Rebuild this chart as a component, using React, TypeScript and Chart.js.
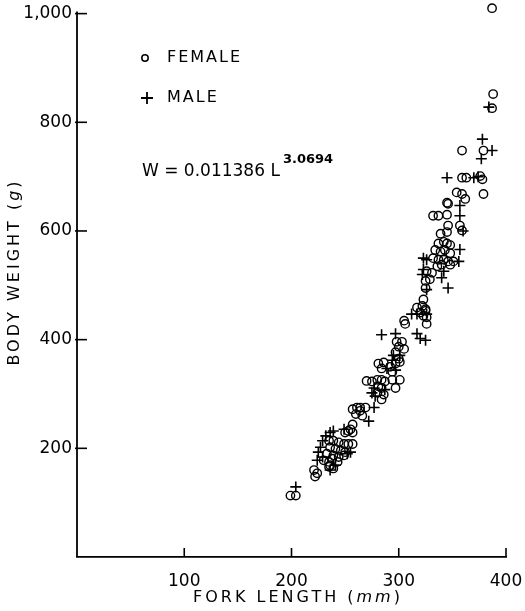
import React, { useEffect, useRef } from "react";
import { Chart, registerables } from "chart.js";

Chart.register(...registerables);

// Fork length (mm) and body weight (g)
const femaleLength = [
  387, 388, 387, 359, 379, 359, 363, 376, 378, 354, 359, 379, 362, 345,
  346, 332, 337, 345, 346, 357, 359, 339, 345, 337, 342, 345, 348, 334, 339, 343, 348,
  332, 337, 342, 346, 351, 336, 340, 348, 326, 331, 325, 329, 325, 323, 322, 325, 320, 323, 305,
  317, 325, 326, 326, 306, 298, 303, 300, 305, 297, 300, 281, 286, 284, 292, 297, 301, 294,
  270, 275, 280, 284, 287, 294, 301, 281, 284, 297, 280, 286, 284, 264, 269,
  257, 261, 264, 260, 266, 257, 255, 250, 253, 257, 235, 239, 244, 249, 253, 257,
  236, 241, 246, 250, 233, 239, 244, 249, 230, 235, 238, 243, 236, 239, 235,
  221, 224, 222, 199, 204,
];
const femaleWeight = [
  1010, 852, 826, 748, 748, 698, 698, 701, 695, 671, 668, 668, 659, 652,
  650, 628, 628, 630, 610, 610, 601, 595, 598, 577, 580, 577, 574, 565, 562, 565, 559,
  550, 547, 547, 544, 544, 535, 538, 538, 526, 523, 508, 511, 495, 474, 462, 456, 450, 444, 435,
  459, 453, 441, 429, 429, 396, 396, 387, 383, 377, 365, 356, 358, 347, 350, 356, 359, 341,
  324, 323, 326, 326, 323, 326, 326, 314, 311, 311, 302, 299, 290, 275, 275,
  272, 275, 269, 263, 260, 244, 235, 229, 232, 229, 214, 214, 211, 208, 208, 208,
  202, 199, 196, 193, 190, 187, 184, 187, 178, 175, 181, 175, 169, 163, 166,
  160, 154, 148, 113, 113,
];
const maleLength = [
  384, 378, 387, 377, 345, 370, 374, 357, 357, 360, 357, 323, 326, 356, 342, 323, 322, 340,
  346, 326, 317, 326, 312, 317, 320, 325, 284, 297, 295, 301, 294, 289, 297, 277, 287,
  278, 275, 277, 272, 249, 239, 236, 232, 229, 227, 225, 252, 255, 229, 224, 236, 241, 204,
];
const maleWeight = [
  828, 769, 748, 733, 698, 698, 700, 647, 628, 600, 566, 550, 547, 544, 526, 529, 520, 514,
  495, 492, 447, 447, 447, 411, 402, 399, 409, 411, 371, 371, 362, 347, 344, 311, 308,
  296, 302, 275, 250, 235, 232, 229, 223, 214, 202, 193, 190, 193, 184, 178, 160, 169, 129,
];

const xTicks = [100, 200, 300, 400];
const xTickLabels = ["100", "200", "300", "400"];
const yTicks = [200, 400, 600, 800, 1000];
const yTickLabels = ["200", "400", "600", "800", "1,000"];

const FONT = '"DejaVu Sans", sans-serif';

function drawSpaced(ctx: CanvasRenderingContext2D, parts: { t: string; italic?: boolean }[], cx: number, cy: number, size: number, spacing: number) {
  ctx.letterSpacing = spacing + "px";
  const widths = parts.map((p) => {
    ctx.font = `${p.italic ? "italic " : ""}${size}px ${FONT}`;
    return ctx.measureText(p.t).width;
  });
  const total = widths.reduce((a, b) => a + b, 0);
  let x = cx - total / 2;
  ctx.textAlign = "left";
  ctx.textBaseline = "middle";
  parts.forEach((p, i) => {
    ctx.font = `${p.italic ? "italic " : ""}${size}px ${FONT}`;
    ctx.fillText(p.t, x, cy);
    x += widths[i];
  });
  ctx.letterSpacing = "0px";
}

const decor = {
  id: "decor",
  afterDraw(chart: any) {
    const ctx: CanvasRenderingContext2D = chart.ctx;
    const xs = chart.scales.x;
    const ys = chart.scales.y;
    ctx.save();
    ctx.strokeStyle = "#000";
    ctx.fillStyle = "#000";
    // y axis line, from 0 up to the 1,000 tick
    ctx.lineWidth = 1.8;
    ctx.beginPath();
    ctx.moveTo(xs.left, ys.getPixelForValue(0));
    ctx.lineTo(xs.left, ys.getPixelForValue(1000) - 2);
    ctx.stroke();

    ctx.lineWidth = 1.6;
    xTicks.forEach((v) => {
      const px = xs.getPixelForValue(v);
      ctx.beginPath();
      ctx.moveTo(px, ys.getPixelForValue(0));
      ctx.lineTo(px, ys.getPixelForValue(0) - 9);
      ctx.stroke();
    });
    yTicks.forEach((v) => {
      const py = ys.getPixelForValue(v);
      ctx.beginPath();
      ctx.moveTo(xs.left - 2, py);
      ctx.lineTo(xs.left + 10, py);
      ctx.stroke();
    });

    // legend
    ctx.lineWidth = 1.5;
    ctx.beginPath();
    ctx.arc(145, 58, 3.2, 0, Math.PI * 2);
    ctx.stroke();
    ctx.lineWidth = 1.8;
    ctx.beginPath();
    ctx.moveTo(141, 98);
    ctx.lineTo(153, 98);
    ctx.moveTo(147, 92);
    ctx.lineTo(147, 104);
    ctx.stroke();

    ctx.textAlign = "left";
    ctx.textBaseline = "middle";
    ctx.font = `16px ${FONT}`;
    ctx.letterSpacing = "2px";
    ctx.fillText("FEMALE", 167, 58);
    ctx.fillText("MALE", 167, 98);
    ctx.letterSpacing = "0px";

    ctx.font = `17px ${FONT}`;
    ctx.fillText("W = 0.011386 L", 142, 172);
    ctx.font = `bold 13px ${FONT}`;
    ctx.fillText("3.0694", 283, 160);

    // axis titles
    drawSpaced(ctx, [{ t: "FORK LENGTH (" }, { t: "mm", italic: true }, { t: ")" }], 298, 598, 16, 3);
    ctx.save();
    ctx.translate(15, 272);
    ctx.rotate(-Math.PI / 2);
    drawSpaced(ctx, [{ t: "BODY WEIGHT (" }, { t: "g", italic: true }, { t: ")" }], 0, 0, 16, 3);
    ctx.restore();

    ctx.restore();
  },
};

export default function App() {
  const ref = useRef<HTMLCanvasElement>(null);
  useEffect(() => {
    document.body.style.margin = "0";
    const canvas = ref.current!;
    const chart = new Chart(canvas, {
      type: "scatter",
      data: {
        datasets: [
          {
            label: "FEMALE",
            data: femaleLength.map((x, i) => ({ x, y: femaleWeight[i] })),
            pointStyle: "circle",
            pointRadius: 4.2,
            borderWidth: 1.4,
            borderColor: "#000",
            backgroundColor: "rgba(0,0,0,0)",
            clip: false as any,
          },
          {
            label: "MALE",
            data: maleLength.map((x, i) => ({ x, y: maleWeight[i] })),
            pointStyle: "cross",
            pointRadius: 5.5,
            borderWidth: 1.6,
            borderColor: "#000",
            backgroundColor: "#000",
            clip: false as any,
          },
        ],
      },
      options: {
        animation: false,
        responsive: false,
        devicePixelRatio: 1,
        layout: { padding: { left: 0, top: 3.4, right: 19, bottom: 0 } },
        plugins: { legend: { display: false }, tooltip: { enabled: false } },
        scales: {
          x: {
            type: "linear",
            min: 0,
            max: 400,
            grid: { display: false, drawTicks: false },
            border: { display: true, color: "#000", width: 1.8 },
            afterBuildTicks: (s: any) => {
              s.ticks = xTicks.map((v) => ({ value: v }));
            },
            afterFit: (s: any) => {
              s.height = 54;
              s.paddingLeft = 0;
              s.paddingRight = 0;
            },
            ticks: {
              color: "#000",
              padding: 14,
              font: { family: FONT, size: 17 },
              callback: (v: any) => {
                const i = xTicks.indexOf(Number(v));
                return i >= 0 ? xTickLabels[i] : "";
              },
            },
          },
          y: {
            type: "linear",
            min: 0,
            max: 1012,
            grid: { display: false, drawTicks: false },
            border: { display: false },
            afterBuildTicks: (s: any) => {
              s.ticks = yTicks.map((v) => ({ value: v }));
            },
            afterFit: (s: any) => {
              s.width = 77;
              s.paddingTop = 0;
              s.paddingBottom = 0;
            },
            ticks: {
              color: "#000",
              padding: 5,
              font: { family: FONT, size: 17 },
              callback: (v: any) => {
                const i = yTicks.indexOf(Number(v));
                return i >= 0 ? yTickLabels[i] : "";
              },
            },
          },
        },
      },
      plugins: [decor],
    });
    return () => chart.destroy();
  }, []);
  return <canvas ref={ref} width={525} height={611} style={{ display: "block", width: 525, height: 611 }} />;
}
